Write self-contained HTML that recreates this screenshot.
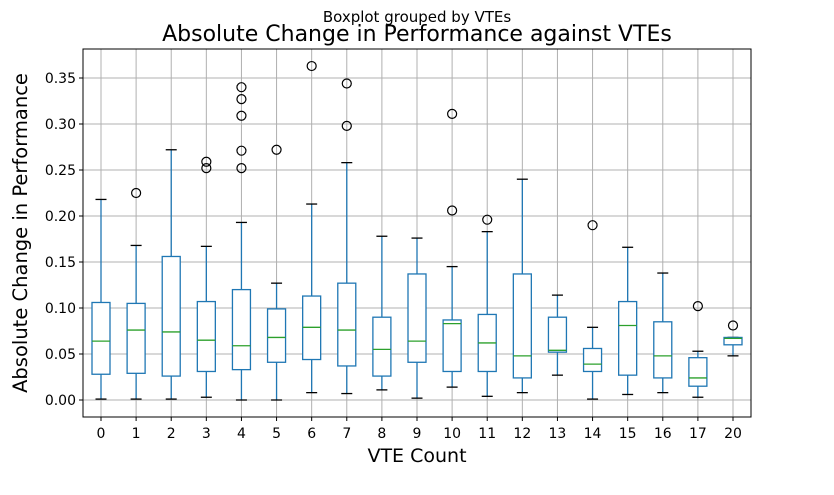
<!DOCTYPE html>
<html><head><meta charset="utf-8"><style>
body{margin:0;background:#fff;}
svg{font-family:"DejaVu Sans","Liberation Sans",sans-serif;}
</style></head><body>
<svg id="c" width="834" height="490" xmlns="http://www.w3.org/2000/svg">
<text x="417" y="22" font-size="15" text-anchor="middle">Boxplot grouped by VTEs</text>
<text x="417" y="41" font-size="22" text-anchor="middle">Absolute Change in Performance against VTEs</text>
<text x="417" y="462" font-size="19" text-anchor="middle">VTE Count</text>
<text transform="translate(27,233) rotate(-90)" font-size="19.5" text-anchor="middle">Absolute Change in Performance</text>
<g id="grid"></g><g id="marks"></g><g id="axes"></g>
</svg>
<script>
const categories=["0","1","2","3","4","5","6","7","8","9","10","11","12","13","14","15","16","17","20"];
const whiskerLow=[0.001,0.001,0.001,0.003,0.000,0.000,0.008,0.007,0.011,0.002,0.014,0.004,0.008,0.027,0.001,0.006,0.008,0.003,0.048];
const q1=[0.028,0.029,0.026,0.031,0.033,0.041,0.044,0.037,0.026,0.041,0.031,0.031,0.024,0.052,0.031,0.027,0.024,0.015,0.060];
const medians=[0.064,0.076,0.074,0.065,0.059,0.068,0.079,0.076,0.055,0.064,0.083,0.062,0.048,0.054,0.039,0.081,0.048,0.024,0.067];
const q3=[0.106,0.105,0.156,0.107,0.120,0.099,0.113,0.127,0.090,0.137,0.087,0.093,0.137,0.090,0.056,0.107,0.085,0.046,0.068];
const whiskerHigh=[0.218,0.168,0.272,0.167,0.193,0.127,0.213,0.258,0.178,0.176,0.145,0.183,0.240,0.114,0.079,0.166,0.138,0.053,0.068];
const outliers=[[],[0.225],[],[0.252,0.259],[0.252,0.271,0.309,0.327,0.340],[0.272],[0.363],[0.298,0.344],[],[],[0.206,0.311],[0.196],[],[],[0.190],[],[],[0.102],[0.081]];
const yTicks=[0,0.05,0.10,0.15,0.20,0.25,0.30,0.35];
const yTickLabels=["0.00","0.05","0.10","0.15","0.20","0.25","0.30","0.35"];

const L=83,R=751,T=49,B=417;
const y=v=>400-v*920;
const x=i=>101+i*(733-101)/(categories.length-1);
const NS="http://www.w3.org/2000/svg";
function mk(parent,tag,attrs){const e=document.createElementNS(NS,tag);for(const k in attrs)e.setAttribute(k,attrs[k]);document.getElementById(parent).appendChild(e);return e;}
categories.forEach((c,i)=>{
  const g=mk('grid','line',{x1:x(i),x2:x(i),y1:T,y2:B,stroke:'#b0b0b0','stroke-width':1});
  
  
  const t=mk('axes','line',{x1:x(i),x2:x(i),y1:B,y2:B+4,stroke:'#000'});
  
  
  const lb=mk('axes','text',{x:x(i),y:B+21,'font-size':14,'text-anchor':'middle'});
  lb.textContent=c;
  
  
});
yTicks.forEach((v,i)=>{
  const g=mk('grid','line',{x1:L,x2:R,y1:y(v),y2:y(v),stroke:'#b0b0b0','stroke-width':1});
  
  
  const t=mk('axes','line',{x1:L-4,x2:L,y1:y(v),y2:y(v),stroke:'#000'});
  
  
  const lb=mk('axes','text',{x:L-7,y:y(v)+5,'font-size':14,'text-anchor':'end'});
  lb.textContent=yTickLabels[i];
  
  
});
const fr=mk('axes','rect',{x:L,y:T,width:R-L,height:B-T,fill:'none',stroke:'#000','stroke-width':1});


const bw=18,cw=9,blue='#1f77b4';
categories.forEach((c,i)=>{
  const cx=x(i);
  const w1=mk('marks','line',{x1:cx,x2:cx,y1:y(whiskerLow[i]),y2:y(q1[i]),stroke:blue,'stroke-width':1.3});
  
  
  const w2=mk('marks','line',{x1:cx,x2:cx,y1:y(q3[i]),y2:y(whiskerHigh[i]),stroke:blue,'stroke-width':1.3});
  
  
  [whiskerLow[i],whiskerHigh[i]].forEach(v=>{
    const cap=mk('marks','line',{x1:cx-cw/2-1,x2:cx+cw/2+1,y1:y(v),y2:y(v),stroke:'#000','stroke-width':1.3});
    
    
  });
  const b=mk('marks','rect',{x:cx-bw/2,y:y(q3[i]),width:bw,height:Math.max(y(q1[i])-y(q3[i]),0.5),fill:'#fff',stroke:blue,'stroke-width':1.3});
  
  
  const m=mk('marks','line',{x1:cx-bw/2,x2:cx+bw/2,y1:y(medians[i]),y2:y(medians[i]),stroke:'#2ca02c','stroke-width':1.3});
  
  
  outliers[i].forEach(v=>{
    const o=mk('marks','circle',{cx:cx,cy:y(v),r:4.5,fill:'none',stroke:'#000','stroke-width':1.2});
    
    
  });
});
</script>
</body></html>
